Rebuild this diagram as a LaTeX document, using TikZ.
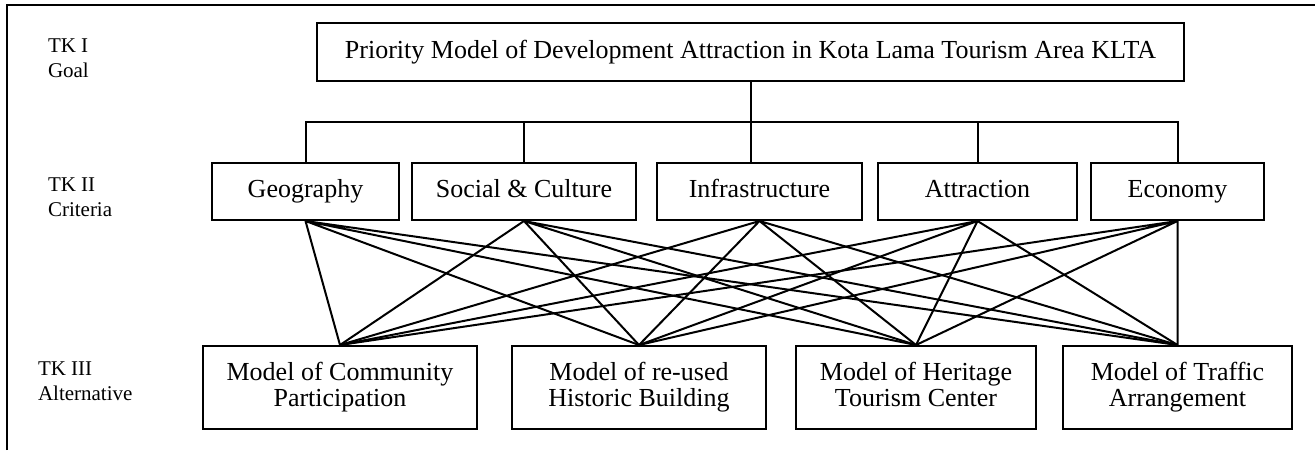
\documentclass[tikz,border=0pt]{standalone}
\usepackage{fontspec}
\setmainfont{Liberation Serif}
\usepackage{tikz}
\usetikzlibrary{positioning}
\usetikzlibrary{calc}
\tikzstyle{box}=[draw, line width=1pt, inner sep=0pt, text centered, text height=9pt, text depth=3pt, font=\fontsize{13}{13}\selectfont]
\tikzstyle{alt}=[box, align=center, text height=22pt, minimum height = 41.5pt]
\tikzstyle{tk}=[inner sep=0pt, anchor=north west, align=left, font=\fontsize{10.5}{12.5}\selectfont]

\begin{document}
\begin{tikzpicture}[x=0.5pt, y=-0.5pt, line width=1pt]
\useasboundingbox (0,0) rectangle (1315,450);
\draw (7,450) -- (7,5) -- (1315,5);
\node[tk] (tk1) at (47,38) {TK I\\Goal};
\node[tk] (tk2) at (47,177) {TK II\\Criteria};
\node[tk] (tk3) at (37,361) {TK III\\Alternative};
\node[box, minimum width = 433.5pt, minimum height = 29pt] (goal) at (750.5,52) {Priority Model of Development Attraction in Kota Lama Tourism Area KLTA};
\node[box, minimum width = 93.5pt, minimum height = 28.5pt] (geo) at (305.5,191.5) {Geography};
\node[box, minimum width = 112pt, minimum height = 28.5pt, right=5.5pt of geo] (soc) {Social \& Culture};
\node[box, minimum width = 102.5pt, minimum height = 28.5pt, right=9.5pt of soc] (infra) {Infrastructure};
\node[box, minimum width = 99.5pt, minimum height = 28.5pt, right=7pt of infra] (attr) {Attraction};
\node[box, minimum width = 86.5pt, minimum height = 28.5pt, right=6pt of attr] (eco) {Economy};
\node[alt, minimum width = 137pt] (comm) at (340,387.5) {Model of Community\\Participation};
\node[alt, minimum width = 127pt, right=16.5pt of comm] (reuse) {Model of re-used\\Historic Building};
\node[alt, minimum width = 120pt, right=14pt of reuse] (herit) {Model of Heritage\\Tourism Center};
\node[alt, minimum width = 114.5pt, right=12.5pt of herit] (traf) {Model of Traffic\\Arrangement};
\coordinate (bus) at ($(goal.south)!0.5!(infra.north)$);
\draw (goal.south) -- (goal.south |- infra.north);
\draw (geo.north) |- (eco.north |- bus) -- (eco.north);
\draw (soc.north) -- (soc.north |- bus);
\draw (attr.north) -- (attr.north |- bus);
\draw (geo.south) -- (comm.north) (geo.south) -- (reuse.north) (geo.south) -- (herit.north) (geo.south) -- (traf.north);
\draw (soc.south) -- (comm.north) (soc.south) -- (reuse.north) (soc.south) -- (herit.north) (soc.south) -- (traf.north);
\draw (infra.south) -- (comm.north) (infra.south) -- (reuse.north) (infra.south) -- (herit.north) (infra.south) -- (traf.north);
\draw (attr.south) -- (comm.north) (attr.south) -- (reuse.north) (attr.south) -- (herit.north) (attr.south) -- (traf.north);
\draw (eco.south) -- (comm.north) (eco.south) -- (reuse.north) (eco.south) -- (herit.north) (eco.south) -- (traf.north);
\end{tikzpicture}
\end{document}
